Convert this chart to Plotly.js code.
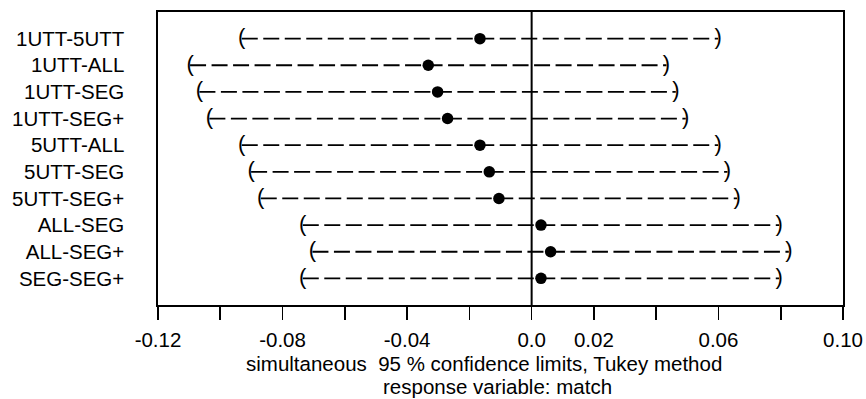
<!DOCTYPE html>
<html><head><meta charset="utf-8">
<script src="https://cdn.plot.ly/plotly-3.0.1.min.js"></script>
<style>html,body{margin:0;padding:0;background:#fff}#chart{width:866px;height:399px}</style>
</head><body><div id="chart"></div>
<script>
const comparisons = ["1UTT-5UTT","1UTT-ALL","1UTT-SEG","1UTT-SEG+","5UTT-ALL","5UTT-SEG","5UTT-SEG+","ALL-SEG","ALL-SEG+","SEG-SEG+"];
const estimates = [-0.0166,-0.0332,-0.0302,-0.0270,-0.0166,-0.0136,-0.0105,0.0030,0.0061,0.0030];
const lowerLimits = [-0.0931,-0.1097,-0.1067,-0.1035,-0.0931,-0.0901,-0.0870,-0.0735,-0.0704,-0.0735];
const upperLimits = [0.0599,0.0433,0.0463,0.0495,0.0599,0.0629,0.0660,0.0795,0.0826,0.0795];
const xTickVals = [-0.12,-0.10,-0.08,-0.06,-0.04,-0.02,0.0,0.02,0.04,0.06,0.08,0.10];
const xTickText = ["-0.12","","-0.08","","-0.04","","0.0","0.02","","0.06","","0.10"];
const titleLine1 = "simultaneous&nbsp; 95 % confidence limits, Tukey method";
const titleLine2 = "response variable: match";

const FONT = "Liberation Sans, Arial, Helvetica, sans-serif";
const FS = 20.5;
const n = comparisons.length;
const yPos = comparisons.map((c, i) => n - i);

const segX = [], segY = [];
for (let i = 0; i < n; i++) {
  segX.push(lowerLimits[i], upperLimits[i], null);
  segY.push(yPos[i], yPos[i], null);
}

const traces = [
  {x: segX, y: segY, mode: 'lines', type: 'scatter',
   line: {color: 'black', width: 1.8, dash: '16px,5.5px'}, hoverinfo: 'skip'},
  {x: lowerLimits, y: yPos, mode: 'text', type: 'scatter', text: lowerLimits.map(() => '('),
   textposition: 'middle center', textfont: {family: FONT, size: 22, color: 'black'}},
  {x: upperLimits, y: yPos, mode: 'text', type: 'scatter', text: upperLimits.map(() => ')'),
   textposition: 'middle center', textfont: {family: FONT, size: 22, color: 'black'}},
  {x: estimates, y: yPos, mode: 'markers', type: 'scatter',
   marker: {color: 'black', size: 11.5}}
];

const layout = {
  width: 866, height: 399,
  margin: {l: 158, r: 23, t: 12, b: 94},
  paper_bgcolor: 'white', plot_bgcolor: 'white',
  showlegend: false,
  font: {family: FONT, size: FS, color: 'black'},
  xaxis: {
    range: [-0.12, 0.10], tickvals: xTickVals, ticktext: xTickText,
    ticks: 'outside', ticklen: 13, tickwidth: 1.6, tickcolor: 'black',
    showline: true, mirror: true, linecolor: 'black', linewidth: 1.6,
    showgrid: false, zeroline: false, ticklabelstandoff: 3,
    tickfont: {family: FONT, size: FS, color: 'black'}
  },
  yaxis: {
    range: [0, 11], tickvals: yPos, ticktext: comparisons,
    ticks: '', showline: true, mirror: true, linecolor: 'black', linewidth: 1.6,
    showgrid: false, zeroline: false, ticklabelstandoff: 28,
    tickfont: {family: FONT, size: FS, color: 'black'}
  },
  shapes: [{type: 'line', xref: 'x', yref: 'paper', x0: 0, x1: 0, y0: 0, y1: 1,
            line: {color: 'black', width: 2}}],
  annotations: [
    {text: titleLine1, xref: 'paper', yref: 'paper', x: 0.476, y: -0.199,
     xanchor: 'center', yanchor: 'middle', showarrow: false,
     font: {family: FONT, size: FS, color: 'black'}},
    {text: titleLine2, xref: 'paper', yref: 'paper', x: 0.495, y: -0.2775,
     xanchor: 'center', yanchor: 'middle', showarrow: false,
     font: {family: FONT, size: FS, color: 'black'}}
  ]
};

Plotly.newPlot('chart', traces, layout, {staticPlot: true, displayModeBar: false});
</script>
</body></html>
